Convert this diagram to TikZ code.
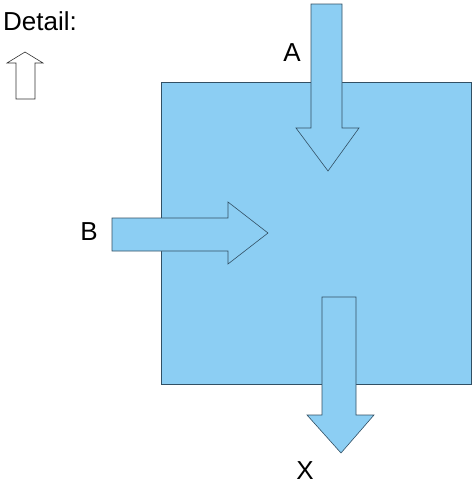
\documentclass[tikz,border=0pt]{standalone}
\usepackage{fontspec}
\setmainfont{Liberation Sans}
\definecolor{tank}{RGB}{140,206,243}
\definecolor{rim}{RGB}{50,80,100}

\begin{document}
\begin{tikzpicture}[x=1pt, y=-1pt,
                flow/.style={draw=rim, fill=tank, line width=0.6pt, line join=miter},
                lbl/.style={inner sep=0pt, font=\fontsize{26}{30}\selectfont}]
                \useasboundingbox (0, 0) rectangle (473, 485);

                \draw [flow] (161, 82) rectangle (471, 384);

                \draw [flow] (311, 4) to (342, 4) to (342, 128) to (359, 128) to (328, 171) to (296, 128) to (311, 128) -- cycle;
                \draw [flow] (112, 218) to (228, 218) to (228, 202) to (268, 233) to (228, 264) to (228, 251) to (112, 251) -- cycle;
                \draw [flow] (322, 297) to (356, 297) to (356, 415) to (374, 415) to (341, 453) to (307, 415) to (322, 415) -- cycle;

                \draw [draw=black!80, fill=white, line width=0.6pt] (16, 99) to (16, 63) to (7, 63) to (25, 52) to (43, 63) to (35, 63) to (35, 99) -- cycle;

                \node [lbl, anchor=base east] (detail) at (77, 30) {Detail:};
                \node [lbl] (inA) at (292, 53) {A};
                \node [lbl] (inB) at (89, 232) {B};
                \node [lbl] (outX) at (305, 471) {X};
            \end{tikzpicture}
\end{document}
